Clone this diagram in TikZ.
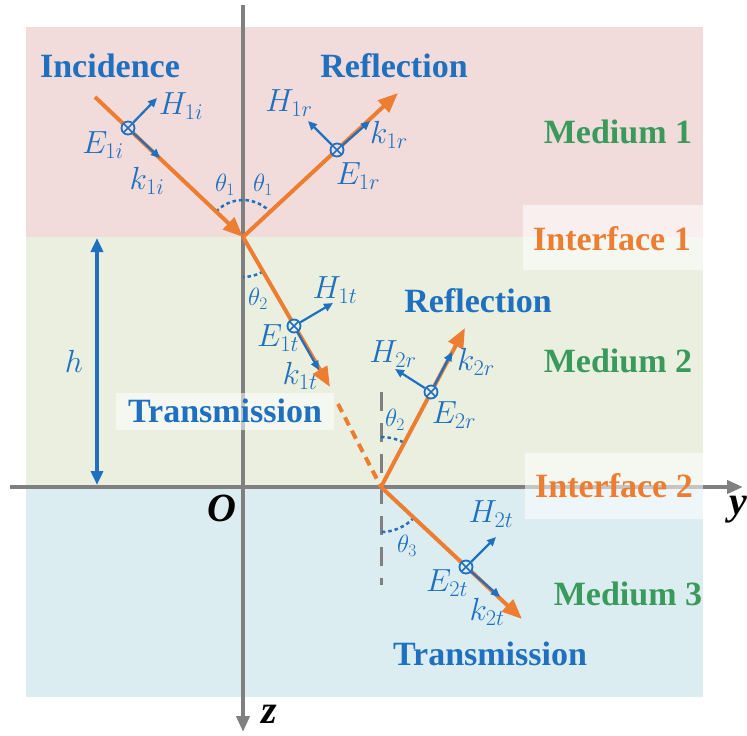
\documentclass[tikz,border=0pt]{standalone}
\usepackage{fix-cm}
\usepackage{fontspec}
\setmainfont{Liberation Serif}
\newfontfamily\lserifbf{Liberation Serif Bold}
\newfontfamily\lserifbi{Liberation Serif Bold Italic}
\usetikzlibrary{arrows.meta}
\definecolor{ored}{HTML}{ED7D31}
\definecolor{tblue}{HTML}{1F70BE}
\definecolor{tgreen}{HTML}{3A9A5C}
\definecolor{axgray}{HTML}{808080}
\definecolor{bgpink}{HTML}{F1DCDB}
\definecolor{bggreen}{HTML}{EBEFE0}
\definecolor{bgblue}{HTML}{DCEDF2}
\tikzset{
  lbl/.style={font=\fontsize{34}{36}\lserifbf, inner sep=0pt, anchor=base},
  mlbl/.style={font=\fontsize{32}{34}\selectfont, text=tblue, inner sep=0pt},
  tlbl/.style={font=\fontsize{25}{27}\selectfont, text=tblue, inner sep=0pt},
  axlbl/.style={font=\fontsize{40}{42}\lserifbi, inner sep=0pt},
  ray/.style={draw=ored, line width=4pt},
  rayhead/.style={-{Triangle[length=20pt,width=16pt]}},
  vec/.style={draw=tblue, line width=2.2pt, -{Triangle[length=9pt,width=8pt]}},
  ang/.style={draw=tblue, line width=2.5pt, dash pattern=on 3.5pt off 3pt},
  axis/.style={draw=axgray, line width=4pt, -{Triangle[length=16pt,width=13pt]}},
  ecirc/.style={circle, draw=tblue, line width=1.8pt, minimum size=13pt, inner sep=0pt,
    path picture={\draw[tblue, line width=1.5pt]
      (path picture bounding box.north west) -- (path picture bounding box.south east)
      (path picture bounding box.north east) -- (path picture bounding box.south west);}},
  wbox/.style={fill=white, fill opacity=0.55, draw=none}
}
\begin{document}
\begin{tikzpicture}[x=1pt,y=1pt,yscale=-1]
\useasboundingbox (0,0) rectangle (747,736);
% media
\fill[bgpink] (26,27) rectangle (703,237);
\fill[bggreen] (26,237) rectangle (703,487);
\fill[bgblue] (26,487) rectangle (703,697);
% axes
\coordinate (zt) at (243,5);
\coordinate (zb) at (243,732);
\coordinate (yl) at (10,487);
\coordinate (yr) at (743,487);
\draw[axis] (zt) -- (zb);
\draw[axis] (yl) -- (yr);
% label boxes
\fill[wbox] (523,205) rectangle (703,270);
\fill[wbox] (525,453) rectangle (703,519);
\fill[wbox] (116,393) rectangle (334,430);
% normal at interface 2
\coordinate (nt) at (381,392);
\coordinate (nb) at (381,585);
\draw[axgray, line width=3pt, dash pattern=on 19pt off 12pt] (nt) -- (nb);
% ray points
\coordinate (I0) at (95,97);
\coordinate (P1) at (243,237);
\coordinate (R1) at (398,93);
\coordinate (T1) at (330,387);
\coordinate (D0) at (338,404);
\coordinate (P2) at (381,487);
\coordinate (R2) at (465,328);
\coordinate (T2) at (522,619);
% angle arcs
\draw[ang] (P1) ++(-136.6:37) arc[start angle=-136.6, end angle=-42.9, radius=37];
\draw[ang] (P1) ++(59.9:40) arc[start angle=59.9, end angle=90, radius=40];
\draw[ang] (P2) ++(-90:50) arc[start angle=-90, end angle=-62.2, radius=50];
\draw[ang] (P2) ++(43.1:45) arc[start angle=43.1, end angle=90, radius=45];
% rays
\draw[ray, rayhead] (I0) -- (P1);
\draw[ray, rayhead] (P1) -- (R1);
\draw[ray, rayhead] (P1) -- (T1);
\draw[ray, dash pattern=on 9pt off 6pt] (D0) -- (P2);
\draw[ray, rayhead] (P2) -- (R2);
\draw[ray, rayhead] (P2) -- (T2);
% h arrow
\coordinate (ht) at (97,238);
\coordinate (hb) at (97,485);
\draw[tblue, line width=3.5pt, {Triangle[length=14pt,width=12pt]}-{Triangle[length=14pt,width=12pt]}] (ht) -- (hb);
\node[mlbl] (hl) at (74,361) {$h$};
% field markers
\node[ecirc, fill=bgpink] (Ei) at (128,128) {};
\node[ecirc, fill=bgpink] (Er) at (337,150) {};
\node[ecirc, fill=bggreen] (Et) at (294,326) {};
\node[ecirc, fill=bggreen] (E2r) at (431,392) {};
\node[ecirc, fill=bgblue] (E2t) at (466,567) {};
\coordinate (ki) at (160,158);
\coordinate (Hi) at (157,98);
\coordinate (kr) at (370,121);
\coordinate (Hr) at (308,121);
\coordinate (kt) at (319,370);
\coordinate (Ht) at (333,303);
\coordinate (k2r) at (452,352);
\coordinate (H2r) at (395,369);
\coordinate (k2t) at (500,597);
\coordinate (H2t) at (496,537);
\draw[vec] (Ei) -- (ki);
\draw[vec] (Ei) -- (Hi);
\draw[vec] (Er) -- (kr);
\draw[vec] (Er) -- (Hr);
\draw[vec] (Et) -- (kt);
\draw[vec] (Et) -- (Ht);
\draw[vec] (E2r) -- (k2r);
\draw[vec] (E2r) -- (H2r);
\draw[vec] (E2t) -- (k2t);
\draw[vec] (E2t) -- (H2t);
% math labels
\node[mlbl] (lHi) at (181,106) {$H_{1i}$};
\node[mlbl] (lEi) at (103,145) {$E_{1i}$};
\node[mlbl] (lki) at (147,181) {$k_{1i}$};
\node[mlbl] (lHr) at (289,103) {$H_{1r}$};
\node[mlbl] (lkr) at (389,135) {$k_{1r}$};
\node[mlbl] (lEr) at (358,176) {$E_{1r}$};
\node[mlbl] (lHt) at (335,290) {$H_{1t}$};
\node[mlbl] (lEt) at (278,338) {$E_{1t}$};
\node[mlbl] (lkt) at (300,376) {$k_{1t}$};
\node[mlbl] (lH2r) at (393,354) {$H_{2r}$};
\node[mlbl] (lk2r) at (476,362) {$k_{2r}$};
\node[mlbl] (lE2r) at (454,415) {$E_{2r}$};
\node[mlbl] (lH2t) at (491,514) {$H_{2t}$};
\node[mlbl] (lE2t) at (447,583) {$E_{2t}$};
\node[mlbl] (lk2t) at (487,612) {$k_{2t}$};
\node[tlbl] (th1a) at (225,185) {$\theta_1$};
\node[tlbl] (th1b) at (263,185) {$\theta_1$};
\node[tlbl] (th2a) at (258,299) {$\theta_2$};
\node[tlbl] (th2b) at (395,420) {$\theta_2$};
\node[tlbl] (th3) at (407,546) {$\theta_3$};
% text labels
\node[lbl, text=tblue] (inc) at (110,77) {Incidence};
\node[lbl, text=tblue] (refl1) at (394,77) {Reflection};
\node[lbl, text=tgreen] (m1) at (618,143) {Medium 1};
\node[lbl, text=ored] (if1) at (612,250) {Interface 1};
\node[lbl, text=tblue] (refl2) at (478,312) {Reflection};
\node[lbl, text=tgreen] (m2) at (618,372) {Medium 2};
\node[lbl, text=tblue] (tr1) at (225,422) {Transmission};
\node[lbl, text=ored] (if2) at (614,497) {Interface 2};
\node[lbl, text=tgreen] (m3) at (628,605) {Medium 3};
\node[lbl, text=tblue] (tr2) at (490,665) {Transmission};
% axis labels
\node[axlbl] (O) at (222,508) {O};
\node[axlbl] (ylab) at (738,510) {y};
\node[axlbl] (zlab) at (269,714) {z};
\end{tikzpicture}
\end{document}
